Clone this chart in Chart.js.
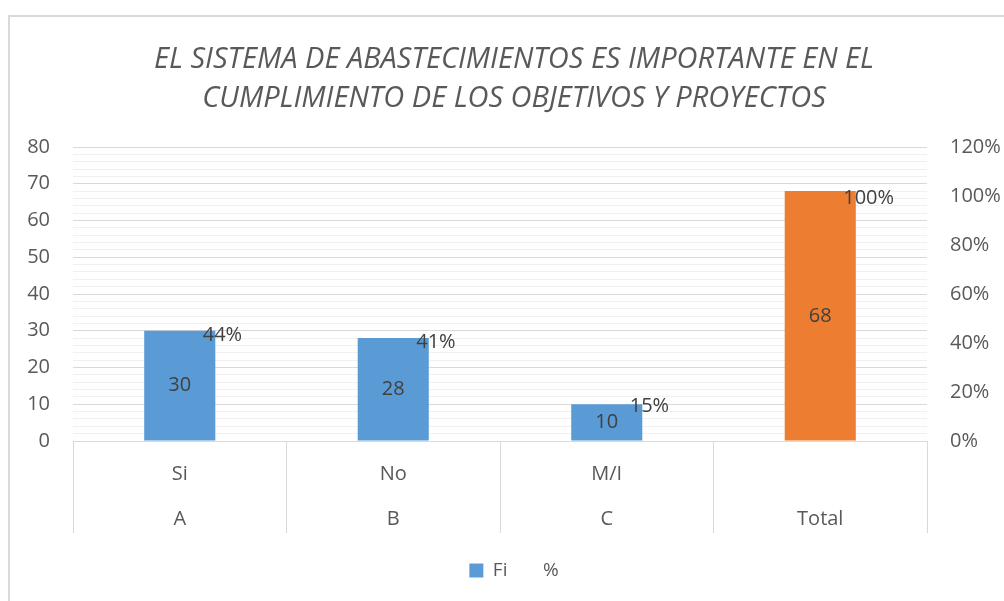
<!DOCTYPE html>
<html>
<head>
<meta charset="utf-8">
<script src="https://cdn.jsdelivr.net/npm/chart.js@4"></script>
<style>
  body { margin: 0; overflow: hidden; background: #fff; width: 1004px; height: 601px; position: relative; }
  #frame { position: absolute; left: 8px; top: 15px; width: 1100px; height: 700px; border: 2px solid #d9d9d9; }
  #wrap { position: absolute; left: 0; top: 0; width: 1028px; height: 601px; }
</style>
</head>
<body>
<div id="frame"></div>
<div id="wrap"><canvas id="chart"></canvas></div>
<script>
// values
const categories = [["Si", "A"], ["No", "B"], ["M/I", "C"], ["", "Total"]];
const fiValues = [30, 28, 10, 68];
const pctValues = [44, 41, 15, 100];
const barColors = ["#5B9BD5", "#5B9BD5", "#5B9BD5", "#ED7D31"];
const titleLines = ["EL SISTEMA DE ABASTECIMIENTOS ES IMPORTANTE EN EL", "CUMPLIMIENTO DE LOS OBJETIVOS Y PROYECTOS"];

Chart.defaults.font.family = "'Open Sans', sans-serif";
Chart.defaults.color = "#595959";

const valueLabels = {
  id: "valueLabels",
  afterDatasetsDraw(chart) {
    const ctx = chart.ctx;
    ctx.save();
    ctx.font = "20px 'Open Sans'";
    ctx.fillStyle = "#404040";
    ctx.textBaseline = "middle";
    chart.getDatasetMeta(0).data.forEach((bar, i) => {
      ctx.textAlign = "center";
      ctx.fillText(fiValues[i], bar.x, (bar.y + bar.base) / 2);
    });
    chart.getDatasetMeta(1).data.forEach((pt, i) => {
      ctx.textAlign = "left";
      ctx.fillText(pctValues[i] + "%", pt.x + 23, pt.y + 2);
    });
    ctx.restore();
  }
};

new Chart(document.getElementById("chart"), {
  type: "bar",
  data: {
    labels: categories,
    datasets: [
      {
        label: "Fi",
        data: fiValues,
        backgroundColor: barColors,
        yAxisID: "y",
        categoryPercentage: 1,
        barPercentage: 0.333,
      },
      {
        type: "line",
        label: "%",
        data: pctValues,
        yAxisID: "y1",
        showLine: false,
        pointRadius: 0,
        borderColor: "rgba(0,0,0,0)",
        backgroundColor: "rgba(0,0,0,0)",
      },
    ],
  },
  options: {
    responsive: true,
    maintainAspectRatio: false,
    animation: false,
    layout: { padding: { left: 0, right: 0, top: 0, bottom: 11 } },
    plugins: {
      title: {
        display: true,
        text: titleLines,
        color: "#595959",
        font: { size: 29, style: "italic", weight: "normal", lineHeight: 1.345 },
        padding: { top: 40, bottom: 29 },
      },
      legend: {
        position: "bottom",
        labels: {
          boxWidth: 14,
          boxHeight: 14,
          padding: 12,
          font: { size: 19 },
          color: "#595959",
        },
      },
      tooltip: { enabled: false },
    },
    scales: {
      x: {
        grid: {
          offset: true,
          drawOnChartArea: false,
          tickLength: 92,
          color: "#d9d9d9",
        },
        border: { color: "#d9d9d9" },
        ticks: {
          font: { size: 20, lineHeight: "45px" },
          padding: -81,
          maxRotation: 0,
          autoSkip: false,
        },
        afterFit: s => { s.height = 108; },
      },
      y: {
        position: "left",
        min: 0,
        max: 80,
        grid: {
          drawTicks: false,
          color: c => (c.tick.value % 10 === 0 ? "#d9d9d9" : "#f0f0f0"),
        },
        border: { display: false },
        ticks: {
          stepSize: 2,
          autoSkip: false,
          padding: 23,
          font: { size: 20 },
          callback: v => (v % 10 === 0 ? v : ""),
        },
        afterFit: s => { s.width = 73; },
      },
      y1: {
        position: "right",
        min: 0,
        max: 120,
        grid: { drawOnChartArea: false, drawTicks: false },
        border: { display: false },
        ticks: {
          stepSize: 20,
          padding: 23,
          font: { size: 20 },
          callback: v => v + "%",
        },
        afterFit: s => { s.width = 101; },
      },
    },
  },
  plugins: [valueLabels],
});
</script>
</body>
</html>
